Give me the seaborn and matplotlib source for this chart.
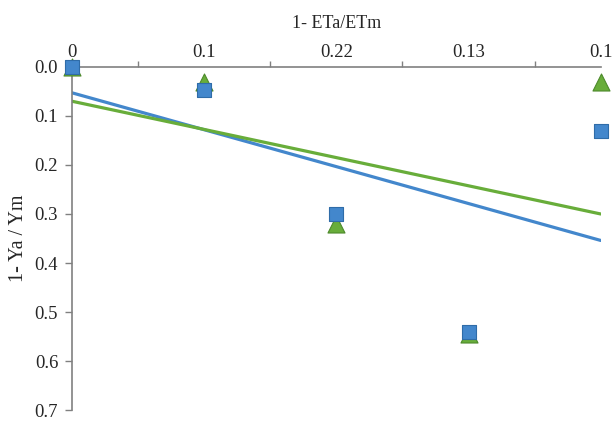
import numpy as np
import pandas as pd
import seaborn as sns
import matplotlib.pyplot as plt
from matplotlib.ticker import FormatStrFormatter

# category labels on the top axis (1 - ETa/ETm)
x_labels = ['0', '0.1', '0.22', '0.13', '0.1']
# 1 - Ya/Ym for the two series
blue_vals = [0.0, 0.047, 0.30, 0.54, 0.13]
green_vals = [0.0, 0.03, 0.32, 0.545, 0.03]

blue = '#4387cc'
green = '#68ad3a'

sns.set_style('white')
plt.rcParams['font.family'] = ['Liberation Serif', 'DejaVu Serif']

pos = np.arange(len(x_labels))
df = pd.DataFrame({'pos': np.concatenate([pos, pos]),
                   'val': green_vals + blue_vals,
                   'series': ['green'] * len(pos) + ['blue'] * len(pos)})

fig = plt.figure(figsize=(6.13, 4.21), dpi=100)
ax = fig.add_axes([0.1175, 0.026, 0.8625, 0.815])

# linear trendlines
sns.regplot(x=pos, y=blue_vals, scatter=False, ci=None, ax=ax,
            line_kws={'color': blue, 'lw': 2.3, 'zorder': 2})
sns.regplot(x=pos, y=green_vals, scatter=False, ci=None, ax=ax,
            line_kws={'color': green, 'lw': 2.3, 'zorder': 2})

# markers
sns.scatterplot(data=df[df.series == 'green'], x='pos', y='val', marker='^', s=150,
                color=green, edgecolor='#4d8a2c', linewidth=0.8, ax=ax, zorder=3, clip_on=False)
sns.scatterplot(data=df[df.series == 'blue'], x='pos', y='val', marker='s', s=100,
                color=blue, edgecolor='#2f6ca8', linewidth=0.8, ax=ax, zorder=4, clip_on=False)

ax.set_xlim(0, 4)
ax.set_ylim(0.7, 0.0)

ax.xaxis.tick_top()
ax.xaxis.set_label_position('top')
ax.set_xticks(pos)
ax.set_xticklabels(x_labels, fontsize=13.5)
ax.set_xticks([0.5, 1.5, 2.5, 3.5, 4], minor=True)
ax.tick_params(axis='x', which='major', length=0, pad=4)
ax.tick_params(axis='x', which='minor', length=4, width=1, color='#808080', direction='out', top=True)

ax.set_yticks(np.arange(0, 0.71, 0.1))
ax.yaxis.set_major_formatter(FormatStrFormatter('%.1f'))
ax.tick_params(axis='y', which='major', length=5, width=1, color='#808080', direction='out',
               labelsize=13.5, left=True, pad=5)

for s in ['right', 'bottom']:
    ax.spines[s].set_visible(False)
for s in ['left', 'top']:
    ax.spines[s].set_color('#808080')
    ax.spines[s].set_linewidth(1.2)

ax.set_xlabel('1- ETa/ETm', fontsize=13, labelpad=12)
ax.set_ylabel('1- Ya / Ym', fontsize=14.5, labelpad=5)

fig.savefig('out.png', dpi=100)
